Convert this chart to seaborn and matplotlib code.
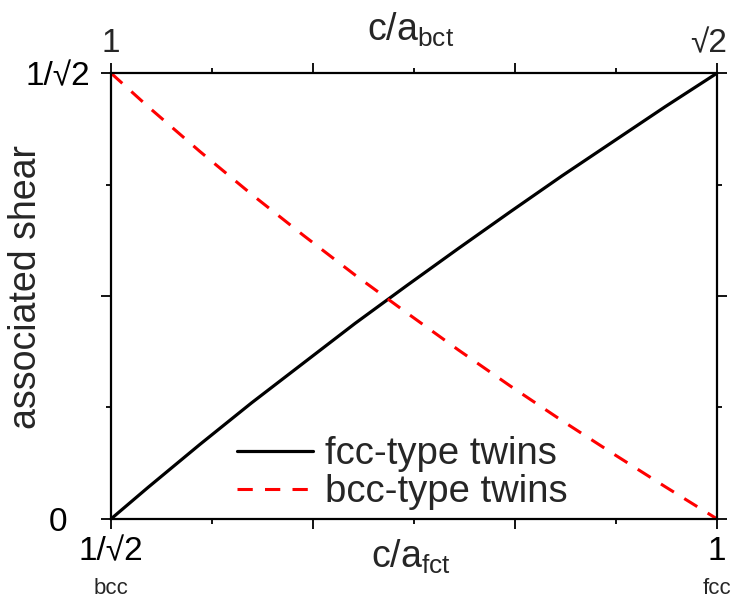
#!/usr/bin/env python3
"""Twinning shear vs. tetragonality (fct / bct description)."""

import matplotlib
matplotlib.use("Agg")
import matplotlib.pyplot as plt
import matplotlib.transforms as mtransforms
import numpy as np
import pandas as pd
import seaborn as sns

# c/a of the fct cell (bottom axis)
CA_FCT = [0.7071, 0.725, 0.75, 0.775, 0.80, 0.825, 0.85, 0.875,
          0.90, 0.925, 0.95, 0.975, 1.00]
# associated shear, fcc-type twins (solid black)
SHEAR_FCC = [0.0, 0.050, 0.118, 0.184, 0.247, 0.310, 0.370, 0.429,
             0.487, 0.544, 0.599, 0.654, 0.7071]
# associated shear, bcc-type twins (dashed red)
SHEAR_BCC = [0.7071, 0.654, 0.583, 0.515, 0.450, 0.387, 0.327, 0.268,
             0.211, 0.156, 0.103, 0.051, 0.0]

SERIES = ["fcc-type twins", "bcc-type twins"]
X_MIN, X_MAX = 1 / np.sqrt(2), 1.0
Y_MIN, Y_MAX = 0.0, 1 / np.sqrt(2)

BOTTOM_LABELS = ["1/\u221a2", "1"]
TOP_LABELS = ["1", "\u221a2"]
LEFT_LABELS = ["0", "1/\u221a2"]
PHASE_LABELS = ["bcc", "fcc"]

sns.set_theme(style="ticks")
plt.rcParams["font.family"] = ["Liberation Sans", "DejaVu Sans"]
plt.rcParams["mathtext.fontset"] = "custom"
plt.rcParams["mathtext.rm"] = "Liberation Sans"
plt.rcParams["mathtext.it"] = "Liberation Sans"

df = pd.DataFrame({
    "ca": CA_FCT * 2,
    "shear": SHEAR_FCC + SHEAR_BCC,
    "twin": [SERIES[0]] * len(CA_FCT) + [SERIES[1]] * len(CA_FCT),
})

fig = plt.figure(figsize=(7.31, 5.99), dpi=100)
ax = fig.add_axes([0.1518, 0.1336, 0.981 - 0.1518, 0.878 - 0.1336])

sns.lineplot(data=df[df["twin"] == SERIES[0]], x="ca", y="shear", ax=ax,
             color="black", lw=2.3, label=SERIES[0], sort=False)
sns.lineplot(data=df[df["twin"] == SERIES[1]], x="ca", y="shear", ax=ax,
             color="#ff0000", lw=2.2, label=SERIES[1], sort=False)
ax.lines[1].set_linestyle((0, (5.0, 4.0)))

ax.set_xlim(X_MIN, X_MAX)
ax.set_ylim(Y_MIN, Y_MAX)

major_x = np.linspace(X_MIN, X_MAX, 4)
minor_x = np.linspace(X_MIN, X_MAX, 7)
major_y = np.linspace(Y_MIN, Y_MAX, 3)
minor_y = np.linspace(Y_MIN, Y_MAX, 5)

ax.set_xticks(major_x)
ax.set_xticks(minor_x, minor=True)
ax.set_xticklabels([BOTTOM_LABELS[0], "", "", BOTTOM_LABELS[1]])
ax.set_yticks(major_y)
ax.set_yticks(minor_y, minor=True)
ax.set_yticklabels([LEFT_LABELS[0], "", LEFT_LABELS[1]])

for s in ax.spines.values():
    s.set_visible(True)
    s.set_linewidth(1.6)
    s.set_color("black")

ax.tick_params(which="both", direction="out", width=1.3, color="black",
               labelsize=24, labelcolor="black", top=True, right=True)
ax.tick_params(which="major", length=7.2)
ax.tick_params(which="minor", length=3.8)
ax.tick_params(axis="x", pad=5)
ax.tick_params(axis="y", pad=31)
for lab in ax.get_yticklabels():
    lab.set_ha("center")

top = ax.twiny()
top.set_xlim(X_MIN, X_MAX)
top.set_xticks(major_x)
top.set_xticks(minor_x, minor=True)
top.set_xticklabels([TOP_LABELS[0], "", "", TOP_LABELS[1]])
top.tick_params(which="both", direction="out", width=1.3, labelsize=24, color="black")
top.tick_params(which="major", length=7.2, pad=3)
top.tick_params(which="minor", length=3.8)
for s in top.spines.values():
    s.set_visible(False)
shift = mtransforms.ScaledTranslation(-6 / 72, 0, fig.dpi_scale_trans)
top_labels = top.get_xticklabels()
top_labels[-1].set_transform(top_labels[-1].get_transform() + shift)

ax.set_xlabel("")
ax.set_ylabel("")
ax.text(-0.14, 0.52, "associated shear", transform=ax.transAxes,
        rotation=90, ha="center", va="center", fontsize=27)
ax.text(0.495, -0.085, "c/a$_{\\mathrm{fct}}$", transform=ax.transAxes,
        ha="center", va="center", fontsize=27)
top.text(0.495, 1.098, "c/a$_{\\mathrm{bct}}$", transform=ax.transAxes,
         ha="center", va="center", fontsize=27)

for xv, lab in zip([X_MIN, X_MAX], PHASE_LABELS):
    ax.annotate(lab, xy=(xv, 0), xycoords=("data", "axes fraction"),
                xytext=(0, -50), textcoords="offset points",
                ha="center", va="center", fontsize=16)

ax.legend(loc="lower left", bbox_to_anchor=(0.208, 0.02), frameon=False,
          fontsize=27.5, handlelength=2.0, handletextpad=0.3, labelspacing=0.05,
          borderpad=0, borderaxespad=0)

fig.savefig("out.png", dpi=100)
